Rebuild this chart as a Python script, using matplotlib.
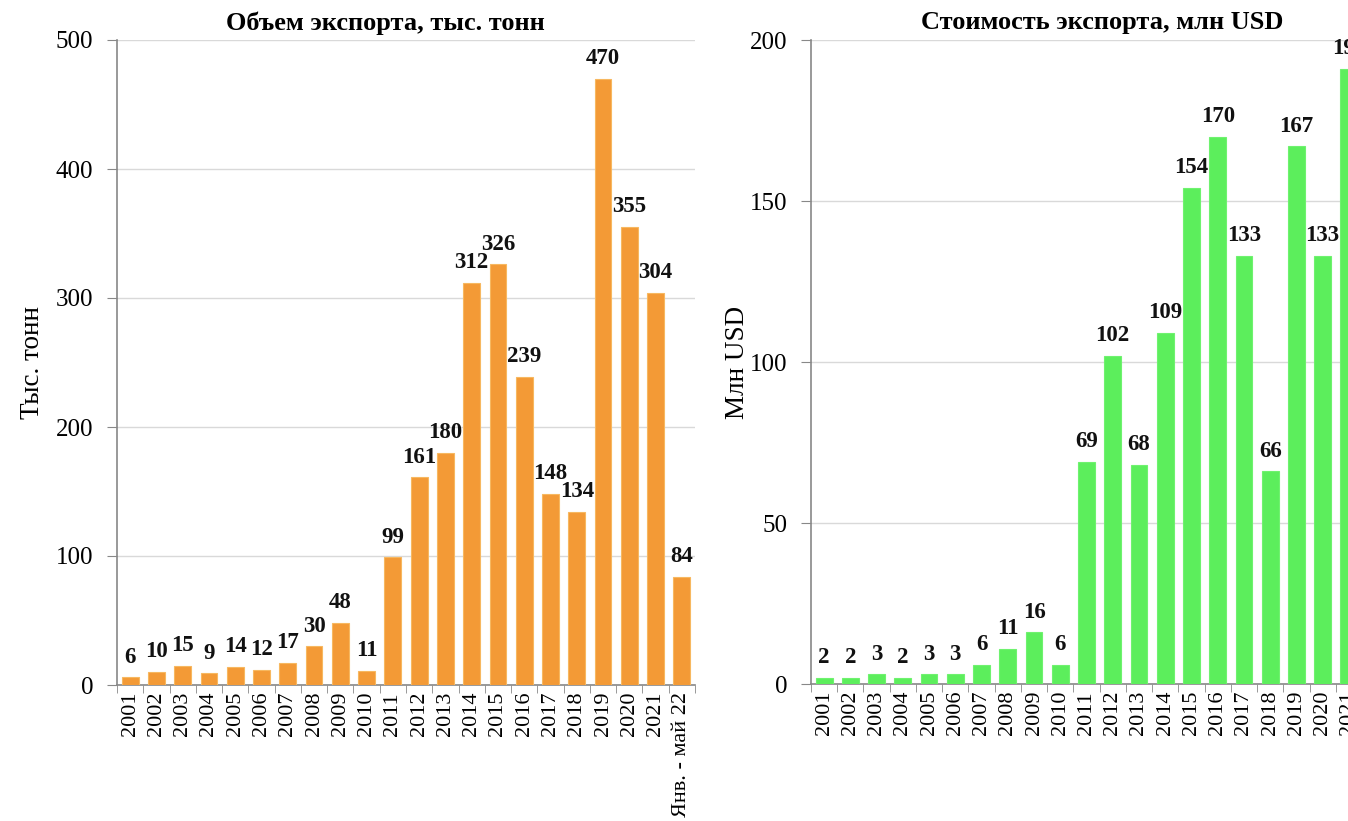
import matplotlib.pyplot as plt
from matplotlib.ticker import FixedLocator

plt.rcParams['font.family'] = ['Liberation Serif', 'DejaVu Serif']

# Export volume, thousand tonnes
vol_labels = [str(y) for y in range(2001, 2022)] + ['Янв. - май 22']
vol_values = [6, 10, 15, 9, 14, 12, 17, 30, 48, 11, 99, 161, 180, 312, 326,
              239, 148, 134, 470, 355, 304, 84]

# Export value, million USD
val_labels = [str(y) for y in range(2001, 2022)]
val_values = [2, 2, 3, 2, 3, 3, 6, 11, 16, 6, 69, 102, 68, 109, 154, 170,
              133, 66, 167, 133, 191]

W, H = 1348, 821
fig = plt.figure(figsize=(W / 100, H / 100), dpi=100)


def draw_panel(rect, labels, values, color, edge, ymax, step, ylabel, labelpad):
    ax = fig.add_axes(rect)
    x = range(len(values))
    ax.bar(x, values, width=0.64, color=color, edgecolor=edge, linewidth=0.8,
           zorder=3)
    for i, v in enumerate(values):
        ax.annotate(str(v), (i, v), xytext=(0, 7), textcoords='offset points',
                    ha='center', va='bottom', fontsize=16.5, fontweight='bold',
                    color='#111111', zorder=4)
    ax.set_xlim(-0.5, len(values) - 0.5)
    ax.set_ylim(0, ymax)
    ax.set_yticks(range(0, ymax + 1, step))
    ax.yaxis.grid(True, color='#d9d9d9', linewidth=1, zorder=0)
    ax.set_xticks(list(x))
    ax.set_xticklabels(labels, rotation=90, fontsize=16)
    ax.xaxis.set_minor_locator(FixedLocator([i - 0.5 for i in range(len(values) + 1)]))
    ax.tick_params(axis='x', which='major', length=0, pad=5)
    ax.tick_params(axis='x', which='minor', length=6, color='#888888')
    ax.tick_params(axis='y', length=7, color='#888888', labelsize=18, pad=10)
    for s in ('top', 'right'):
        ax.spines[s].set_visible(False)
    for s in ('left', 'bottom'):
        ax.spines[s].set_color('#888888')
        ax.spines[s].set_linewidth(1.2)
    ax.set_ylabel(ylabel, fontsize=19.5, labelpad=labelpad)
    return ax


draw_panel([117 / W, (H - 685) / H, 578 / W, 645 / H], vol_labels, vol_values,
           '#F39A36', '#F7B860', 500, 100, 'Тыс. тонн', 8)
draw_panel([811 / W, (H - 684) / H, 551 / W, 644 / H], val_labels, val_values,
           '#5CEE5C', '#6FF26F', 200, 50, 'Млн USD', 0)

fig.text(385 / W, 1 - 23 / H, 'Объем экспорта, тыс. тонн', ha='center',
         va='center', fontsize=19, fontweight='bold')
fig.text(1102 / W, 1 - 23 / H, 'Стоимость экспорта, млн USD', ha='center',
         va='center', fontsize=19, fontweight='bold')

fig.savefig('out.png', dpi=100, facecolor='white')
